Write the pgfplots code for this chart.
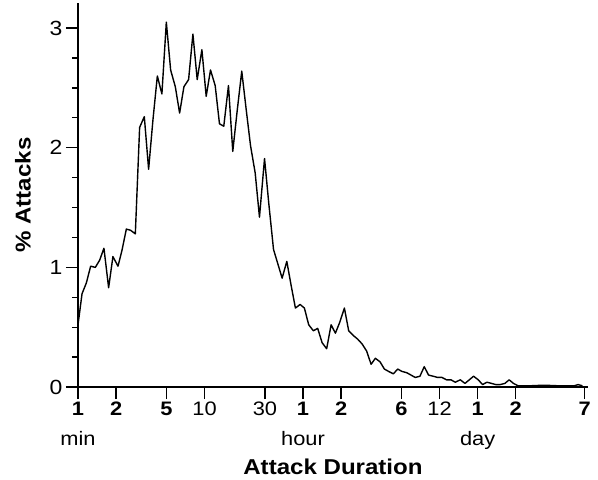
\documentclass[border=0pt]{standalone}
\usepackage{fontspec}
\setmainfont{Liberation Sans}[FakeStretch=1.12]
\usepackage{pgfplots}
\pgfplotsset{compat=1.18}

% duration as log10(minutes), share of attacks in percent
\pgfplotstableread{
x y
0.000 0.52
0.032 0.78
0.066 0.87
0.100 1.01
0.137 1.00
0.171 1.06
0.205 1.16
0.242 0.83
0.276 1.09
0.316 1.01
0.347 1.14
0.382 1.32
0.416 1.31
0.453 1.28
0.487 2.17
0.524 2.26
0.558 1.82
0.592 2.23
0.627 2.60
0.663 2.45
0.698 3.05
0.732 2.65
0.769 2.51
0.803 2.29
0.837 2.51
0.874 2.57
0.908 2.95
0.942 2.57
0.979 2.82
1.013 2.43
1.047 2.65
1.084 2.52
1.118 2.20
1.152 2.18
1.189 2.52
1.223 1.97
1.258 2.31
1.294 2.64
1.329 2.32
1.363 2.02
1.400 1.79
1.434 1.42
1.474 1.91
1.508 1.53
1.545 1.15
1.579 1.03
1.613 0.91
1.650 1.05
1.684 0.85
1.718 0.66
1.755 0.69
1.789 0.66
1.823 0.52
1.860 0.47
1.894 0.49
1.929 0.37
1.965 0.32
2.000 0.52
2.034 0.45
2.068 0.54
2.105 0.66
2.139 0.47
2.176 0.43
2.210 0.40
2.245 0.36
2.281 0.30
2.316 0.19
2.350 0.24
2.387 0.21
2.421 0.15
2.455 0.13
2.492 0.11
2.526 0.15
2.560 0.13
2.597 0.12
2.631 0.10
2.665 0.08
2.702 0.09
2.736 0.17
2.770 0.10
2.807 0.09
2.841 0.08
2.876 0.08
2.912 0.06
2.947 0.06
2.981 0.04
3.021 0.06
3.058 0.03
3.092 0.06
3.126 0.09
3.163 0.06
3.197 0.02
3.231 0.04
3.268 0.03
3.302 0.02
3.336 0.02
3.373 0.03
3.407 0.06
3.441 0.03
3.478 0.01
3.565 0.01
3.683 0.015
3.801 0.01
3.920 0.01
3.952 0.02
3.986 0.01
}\durations

\begin{document}
\begin{tikzpicture}
    \begin{axis}[
            name = main,
            scale only axis,
            width = 510pt, height = 384pt,
            xmin = 0, xmax = 4.03,
            ymin = 0, ymax = 3.21,
            axis lines* = left,
            axis line style = {-, line width=1.3pt},
            tick style = {line width=1.3pt, black},
            tick align = outside,
            major tick length = 12pt,
            minor tick length = 6pt,
            xtick = {0,0.30103,0.69897,1,1.47712,1.77815,2.07918,2.55630,2.85733,3.15836,3.45939,4.00346},
            xticklabels = {{\textbf{1}\\min},{\textbf{2}},{\textbf{5}},{10},{30},{\textbf{1}\\hour},{\textbf{2}},{\textbf{6}},{12},{\textbf{1}\\day},{\textbf{2}},{\textbf{7}}},
            xticklabel style = {align=center, anchor=north, font=\fontsize{19.5}{30}\selectfont, inner sep=1pt, yshift=-2pt},
            ytick = {0,1,2,3},
            minor ytick = {0.25,0.5,0.75,1.25,1.5,1.75,2.25,2.5,2.75},
            yticklabel style = {font=\fontsize{20.5}{22}\selectfont},
            /pgf/number format/assume math mode=true,
            xlabel = {\textbf{Attack Duration}},
            ylabel = {\textbf{\% Attacks}},
            label style = {font=\fontsize{21.5}{23}\selectfont},
            xlabel style = {yshift=-5pt},
            ylabel style = {yshift=12pt},
        ]
        \addplot[black, line width=1.4pt, line join=round] table[x=x, y=y] {\durations};
    \end{axis}
    \pgfresetboundingbox
    \path[use as bounding box] (main.south west) ++(-78pt,-93pt) rectangle ++(598pt,480pt);
\end{tikzpicture}
\end{document}
